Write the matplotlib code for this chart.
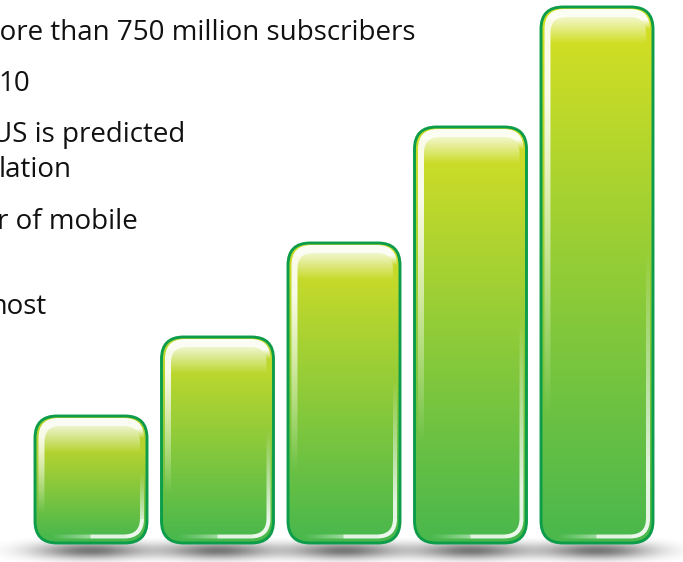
import numpy as np
import matplotlib
matplotlib.use("Agg")
import matplotlib.pyplot as plt
from matplotlib.colors import to_rgb
from matplotlib.patches import FancyBboxPatch

bar_heights = [127, 206, 300, 416, 536]
bar_tops = ["#b5d330", "#bcd72e", "#c6da2a", "#cbdc28", "#d0de24"]
bar_bottom = "#4ab84c"
outline = "#0c9c4a"

# right-hand end of each line, then baseline height above the bars' foot
text_lines = ["more than 750 million subscribers", "10", "US is predicted",
              "lation", "r of mobile", "most"]
text_right = [415, 30, 185, 72, 138, 47]
text_base = [503, 452, 401, 366, 314, 229]


def rounded(ax, x0, y0, w, h, r):
    box = FancyBboxPatch((x0, y0), w, h, boxstyle=f"round,pad=0,rounding_size={r}",
                         fc="none", ec="none", transform=ax.transData)
    ax.add_patch(box)
    return box


def clipped_image(ax, rgba, extent, clip, zorder):
    im = ax.imshow(rgba, extent=extent, origin="lower", aspect="auto",
                   interpolation="bilinear", zorder=zorder)
    im.set_clip_path(clip)
    return im


def green_ramp(height, top_color, top_gap):
    """Rows from foot to head: green rising to the lime colour top_gap below the head."""
    ys = np.arange(0, height + 1.0)
    t = np.clip((ys - 6) / (height - top_gap - 6), 0, 1)[:, None]
    low, high = np.array(to_rgb(bar_bottom)), np.array(to_rgb(top_color))
    rgb = low * (1 - t) + high * t
    return ys, rgb


def draw_shadow(ax, cx):
    xs = np.linspace(cx - 100, cx + 100, 201)
    ys = np.linspace(-24, 10, 68)
    xx, yy = np.meshgrid(xs, ys)
    d = ((xx - cx) / 56) ** 2 + ((yy + 7.5) / 8.5) ** 2
    rgba = np.zeros(xx.shape + (4,))
    rgba[..., :3] = 0.3
    rgba[..., 3] = 0.78 * np.clip(np.exp(-d) - 0.02, 0, 1)
    ax.imshow(rgba, extent=(xs[0], xs[-1], ys[0], ys[-1]), origin="lower",
              aspect="auto", interpolation="bilinear", zorder=1)


def draw_bar(ax, cx, height, top_color, z):
    w = 112
    x0 = cx - w / 2
    # base layer, visible as the thin coloured band inside the outline
    ys, rgb = green_ramp(height, top_color, 34)
    glow = np.concatenate([rgb, np.ones((len(ys), 1))], axis=1)[:, None, :]
    outer = rounded(ax, x0, 0, w, height, 22)
    clipped_image(ax, glow, (x0, x0 + w, 0, height), outer, z)

    # white rim highlights, strongest along the head and lower right corner
    mid = rounded(ax, x0 + 3.5, 4.5, w - 6.5, height - 6.5, 20)
    u = np.linspace(0, 1, 113)
    v = np.arange(0, height + 1.0)
    uu, vv = np.meshgrid(u, v)
    vf = vv / height
    side_left = (uu < 0.5) * np.clip(1.5 * vf - 0.35, 0, 0.9)
    side_right = (uu >= 0.5) * np.clip(1.1 - 2.0 * vf, 0, 0.85)
    foot = (vv < 24) * np.clip((uu - 0.14) * 1.3, 0, 0.9)
    head = np.clip((vv - (height - 22)) / 10, 0, 1) * 0.95
    rim = np.ones(uu.shape + (4,))
    rim[..., 3] = np.maximum.reduce([side_left, side_right, foot, head])
    clipped_image(ax, rim, (x0, x0 + w, 0, height), mid, z + 1)

    # main panel with a glossy fade over its top
    panel = rounded(ax, x0 + 9.5, 8.5, w - 16.5, height - 18.5, 16)
    ys, rgb = green_ramp(height, top_color, 34)
    gloss = np.clip((ys - (height - 36)) / 26, 0, 1)[:, None] * 0.75
    shiny = rgb * (1 - gloss) + gloss
    pic = np.concatenate([shiny, np.ones((len(ys), 1))], axis=1)[:, None, :]
    clipped_image(ax, pic, (x0, x0 + w, 0, height), panel, z + 2)

    ax.add_patch(FancyBboxPatch((x0, 0), w, height,
                                boxstyle="round,pad=0,rounding_size=22",
                                fc="none", ec=outline, lw=2.1, zorder=z + 3))


fig = plt.figure(figsize=(6.83, 5.62), dpi=100)
ax = fig.add_axes([0, 0, 1, 1])

positions = [91 + 126.5 * i for i in range(len(bar_heights))]
for cx in positions:
    draw_shadow(ax, cx)
for i, cx in enumerate(positions):
    draw_bar(ax, cx, bar_heights[i], bar_tops[i], 2 + i * 4)

for line, right, base in zip(text_lines, text_right, text_base):
    ax.text(right, base, line, ha="right", va="baseline", fontsize=20,
            family="Open Sans", color="#111111", zorder=40)

ax.set_xlim(0, 683)
ax.set_ylim(-19, 543)
ax.axis("off")
fig.savefig("out.png", dpi=100)
